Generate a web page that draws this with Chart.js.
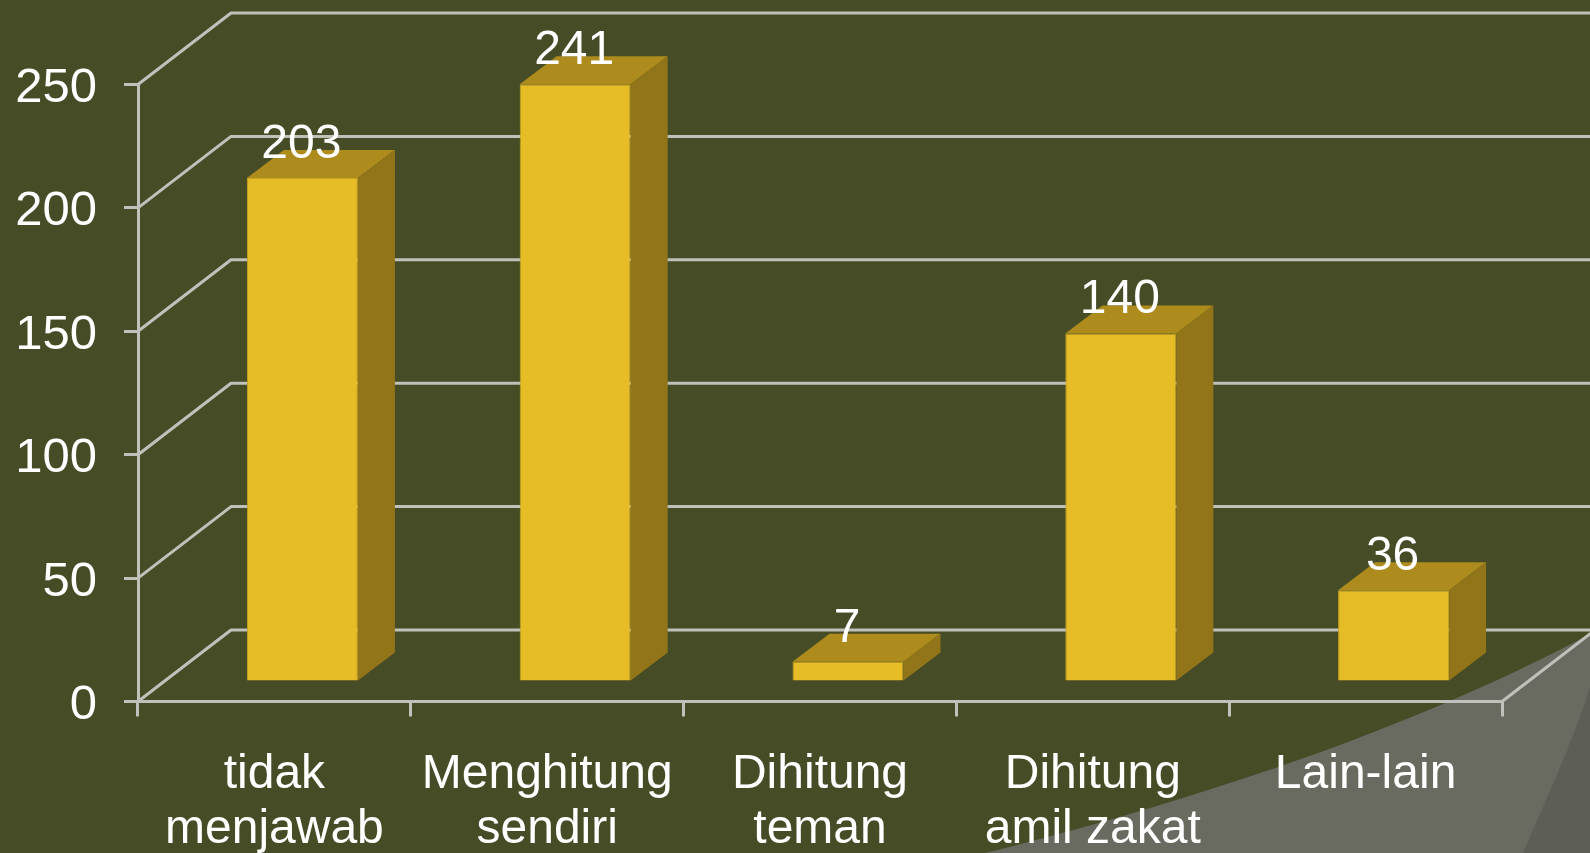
<!DOCTYPE html>
<html>
<head>
<meta charset="utf-8">
<style>
html,body{margin:0;padding:0;background:#454C26;overflow:hidden;width:1590px;height:853px}
svg,canvas{position:absolute;left:0;top:0}
</style>
<script src="https://cdn.jsdelivr.net/npm/chart.js@4/dist/chart.umd.min.js"></script>
</head>
<body>
<svg width="1590" height="853" viewBox="0 0 1590 853">
  <path d="M985 853 C1200 800 1420 725 1590 634 L1590 853 Z" fill="#6A6B60"/>
  <path d="M1523 853 C1542 808 1570 750 1590 687 L1590 853 Z" fill="#5D5E56"/>
</svg>
<canvas id="c" width="1590" height="853"></canvas>
<script>
const categories = [["tidak","menjawab"],["Menghitung","sendiri"],["Dihitung","teman"],["Dihitung","amil zakat"],"Lain-lain"];
const jumlah = [203,241,7,140,36];
const FONT = "'Liberation Sans', Arial, sans-serif";
const GRID = "#C0C1BA";
const WALL = {dx:93, dy:-71.5};
const PLANE = {dx:28, dy:-22.5};
const DEPTH = {dx:37, dy:-28};
const Y_LABEL_SHIFT = 4;

const threeD = {
  id:"threeD",
  beforeDraw(chart){
    const items = chart.scales.y.getLabelItems();
    if(!items._shifted){
      items.forEach(it=>{ it.options.translation[1] += Y_LABEL_SHIFT; });
      items._shifted = true;
    }
  },
  beforeDatasetsDraw(chart){
    const {ctx, scales:{y}, chartArea:a} = chart;
    ctx.save();
    ctx.strokeStyle = GRID; ctx.lineWidth = 3; ctx.lineJoin = "round";
    y.ticks.forEach(t=>{
      const py = y.getPixelForValue(t.value);
      ctx.beginPath();
      ctx.moveTo(a.left,py);
      ctx.lineTo(a.left+WALL.dx,py+WALL.dy);
      ctx.lineTo(a.right+WALL.dx,py+WALL.dy);
      ctx.stroke();
    });
    const py0 = y.getPixelForValue(0);
    ctx.beginPath();
    ctx.moveTo(a.right,py0);
    ctx.lineTo(a.right+WALL.dx,py0+WALL.dy);
    ctx.stroke();
    ctx.restore();
  },
  beforeDatasetDraw(chart,args){
    const {ctx} = chart;
    ctx.save();
    ctx.translate(PLANE.dx,PLANE.dy);
    chart.getDatasetMeta(args.index).data.forEach(b=>{
      const l=b.x-b.width/2, r=b.x+b.width/2, t=b.y, bt=b.base;
      ctx.fillStyle="#AD8B1C";
      ctx.beginPath();
      ctx.moveTo(l,t);ctx.lineTo(l+DEPTH.dx,t+DEPTH.dy);ctx.lineTo(r+DEPTH.dx,t+DEPTH.dy);ctx.lineTo(r,t);
      ctx.closePath();ctx.fill();
      ctx.fillStyle="#937519";
      ctx.beginPath();
      ctx.moveTo(r,t);ctx.lineTo(r+DEPTH.dx,t+DEPTH.dy);ctx.lineTo(r+DEPTH.dx,bt+DEPTH.dy);ctx.lineTo(r,bt);
      ctx.closePath();ctx.fill();
    });
  },
  afterDatasetDraw(chart){ chart.ctx.restore(); },
  afterDatasetsDraw(chart){
    const {ctx} = chart;
    ctx.save();
    ctx.fillStyle="#fff"; ctx.font="48px "+FONT; ctx.textAlign="center"; ctx.textBaseline="alphabetic";
    chart.getDatasetMeta(0).data.forEach((b,i)=>{
      ctx.fillText(String(jumlah[i]), b.x+PLANE.dx-1, b.y+PLANE.dy-20);
    });
    ctx.restore();
  }
};

new Chart(document.getElementById("c"),{
  type:"bar",
  data:{labels:categories,datasets:[{
    data:jumlah,
    base:-0.6,
    backgroundColor:"#E6BC27",
    borderColor:"#C9A424",
    borderWidth:1,
    categoryPercentage:1,
    barPercentage:0.407,
    clip:false
  }]},
  plugins:[threeD],
  options:{
    responsive:false,
    animation:false,
    devicePixelRatio:1,
    layout:{padding:{top:84.5,right:88,left:0,bottom:0}},
    plugins:{legend:{display:false},title:{display:false},tooltip:{enabled:false}},
    scales:{
      x:{
        afterFit(s){s.height=151.5;},
        grid:{drawOnChartArea:false,color:GRID,lineWidth:3,tickLength:15},
        border:{color:GRID,width:3},
        ticks:{color:"#fff",font:{family:FONT,size:48,lineHeight:55/48},maxRotation:0,minRotation:0,autoSkip:false,padding:31}
      },
      y:{
        min:0,max:250,
        afterFit(s){s.width=138;},
        grid:{drawOnChartArea:false,color:GRID,lineWidth:3,tickLength:14},
        border:{color:GRID,width:3},
        ticks:{color:"#fff",font:{family:FONT,size:49},stepSize:50,padding:27}
      }
    }
  }
});
</script>
</body>
</html>
